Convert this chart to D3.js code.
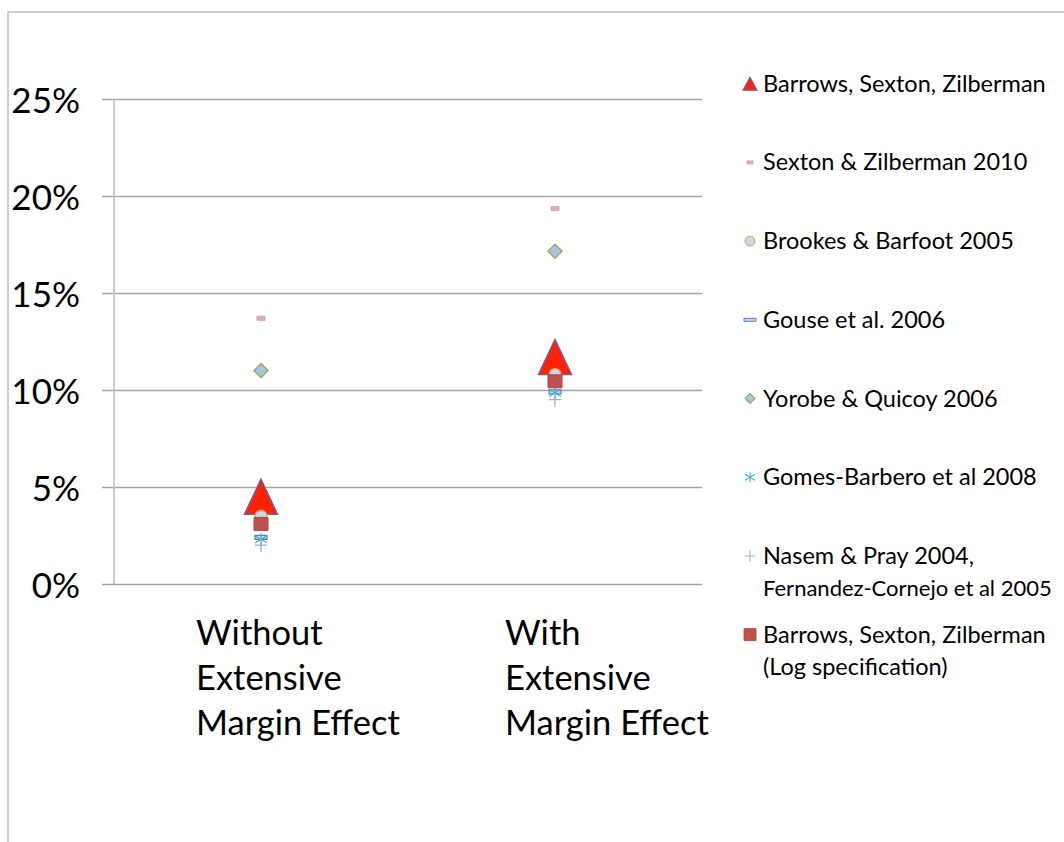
<!DOCTYPE html>
<html>
<head>
<meta charset="utf-8">
<script src="https://cdn.jsdelivr.net/npm/d3@7"></script>
<style>
  html, body { margin: 0; padding: 0; background: #fff; }
  svg { display: block; }
</style>
</head>
<body>
<svg id="chart" width="1064" height="842"></svg>
<script>
// ---------- DATA ----------
const categories = ["Without Extensive Margin Effect", "With Extensive Margin Effect"];
const categoryLines = [["Without", "Extensive", "Margin Effect"], ["With", "Extensive", "Margin Effect"]];
const yTicks = [0, 5, 10, 15, 20, 25];

const seriesNames = [
  ["Barrows, Sexton, Zilberman"],
  ["Sexton & Zilberman 2010"],
  ["Brookes & Barfoot 2005"],
  ["Gouse et al. 2006"],
  ["Yorobe & Quicoy 2006"],
  ["Gomes-Barbero et al 2008"],
  ["Nasem & Pray 2004,", "Fernandez-Cornejo et al 2005"],
  ["Barrows, Sexton, Zilberman", "(Log specification)"]
];
const barrows    = [4.5, 11.7];
const sexton     = [13.7, 19.35];
const brookes    = [3.5, 10.8];
const gouse      = [2.4, 9.9];
const yorobe     = [11.0, 17.15];
const gomes      = [2.3, 9.85];
const nasem      = [2.0, 9.5];
const barrowsLog = [3.1, 10.45];

const seriesValues = [barrows, sexton, brookes, gouse, yorobe, gomes, nasem, barrowsLog];

// ---------- STYLE ----------
const FONT = "Lato, 'Noto Sans', sans-serif";
const labelOffsets = [-65, -50]; // category label left edge relative to band centre
const markerStyles = [
  {type: "triangle", w: 33, h: 35, lw: 14, lh: 13, fill: "#ff2200", stroke: "#6f5ea3", sw: 1.5},
  {type: "rect", w: 8, h: 4, lw: 6, lh: 3, fill: "#cdb2cf", stroke: "#e59c9c", sw: 1},
  {type: "circle", w: 12, h: 12, lw: 10, lh: 10, fill: "#c8d8ec", stroke: "#f29a4a", sw: 1.2},
  {type: "rect", w: 12, h: 4, lw: 12, lh: 3, fill: "#c6d9f1", stroke: "#4f81bd", sw: 1.2},
  {type: "diamond", w: 14, h: 14, lw: 10, lh: 10, fill: "#a7c4e6", stroke: "#93b35a", sw: 1.5},
  {type: "star", w: 12, h: 12, lw: 10, lh: 10, fill: "none", stroke: "#4bacc6", sw: 1.3},
  {type: "plus", w: 12, h: 14, lw: 11, lh: 12, fill: "none", stroke: "#95b3d7", sw: 1.3},
  {type: "rect", w: 14, h: 13, lw: 12, lh: 12, fill: "#c0504d", stroke: "#b0463f", sw: 1}
];

function shapePath(type, w, h) {
  const a = w / 2, b = h / 2;
  switch (type) {
    case "triangle": return `M0,${-b}L${a},${b}L${-a},${b}Z`;
    case "rect": return `M${-a},${-b}H${a}V${b}H${-a}Z`;
    case "circle": return `M${a},0A${a},${b} 0 1,1 ${-a},0A${a},${b} 0 1,1 ${a},0Z`;
    case "diamond": return `M0,${-b}L${a},0L0,${b}L${-a},0Z`;
    case "star": return `M0,${-b}V${b}M${-a},${-b * 0.6}L${a},${b * 0.6}M${-a},${b * 0.6}L${a},${-b * 0.6}`;
    case "plus": return `M0,${-b}V${b}M${-a},0H${a}`;
  }
}

// ---------- CHART ----------
const svg = d3.select("#chart");
svg.append("rect").attr("width", 1064).attr("height", 842).attr("fill", "#fff");
// outer frame
svg.append("path").attr("d", "M8,842V12H1064").attr("fill", "none").attr("stroke", "#bfbfbf").attr("stroke-width", 1.5);

const x = d3.scaleBand().domain(categories).range([114, 702]).paddingInner(0).paddingOuter(0);
const y = d3.scaleLinear().domain([0, 25]).range([584, 99]);

// axis + gridlines
const axis = d3.axisLeft(y).tickValues(yTicks).tickSizeOuter(0).tickSizeInner(12).tickFormat(d => d + "%");
const gAxis = svg.append("g").attr("transform", "translate(114,0)").call(axis);
gAxis.select(".domain").remove();
gAxis.selectAll(".tick line").attr("x1", -12).attr("x2", 702 - 114).attr("stroke", "#a6a6a6").attr("stroke-width", 1.6);
gAxis.selectAll(".tick text").attr("x", -34).attr("dy", "0.38em")
  .attr("font-family", FONT).attr("font-size", 35).attr("fill", "#000");
svg.append("line").attr("x1", 114).attr("x2", 114).attr("y1", y(25)).attr("y2", y(0))
  .attr("stroke", "#c0c0c0").attr("stroke-width", 1.6);

// category labels
categories.forEach((c, i) => {
  const t = svg.append("text").attr("font-family", FONT).attr("font-size", 34.5).attr("fill", "#000");
  categoryLines[i].forEach((ln, j) => {
    t.append("tspan").attr("x", x(c) + x.bandwidth() / 2 + labelOffsets[i]).attr("y", 645 + j * 45).text(ln);
  });
});

// markers
seriesValues.forEach((vals, si) => {
  const st = markerStyles[si];
  svg.append("g").selectAll("path").data(vals).join("path")
    .attr("transform", (d, i) => `translate(${x(categories[i]) + x.bandwidth() / 2},${y(d)})`)
    .attr("d", shapePath(st.type, st.w, st.h))
    .attr("fill", st.fill).attr("stroke", st.stroke).attr("stroke-width", st.sw);
});

// legend
const legend = svg.append("g");
const maxLegendWidth = 289;
seriesNames.forEach((lines, si) => {
  const st = markerStyles[si];
  const base = 91.7 + si * 78.7;
  legend.append("path").attr("transform", `translate(750,${base - 8})`)
    .attr("d", shapePath(st.type, st.lw, st.lh))
    .attr("fill", st.fill).attr("stroke", st.stroke).attr("stroke-width", st.sw * 0.8);
  lines.forEach((ln, j) => {
    const t = legend.append("text").attr("font-family", FONT).attr("font-size", 23.5).attr("fill", "#000")
      .attr("x", 763).attr("y", base + j * 32).text(ln);
    const w = t.node().getComputedTextLength();
    if (w > maxLegendWidth) t.attr("font-size", 23.5 * maxLegendWidth / w);
  });
});
</script>
</body>
</html>
